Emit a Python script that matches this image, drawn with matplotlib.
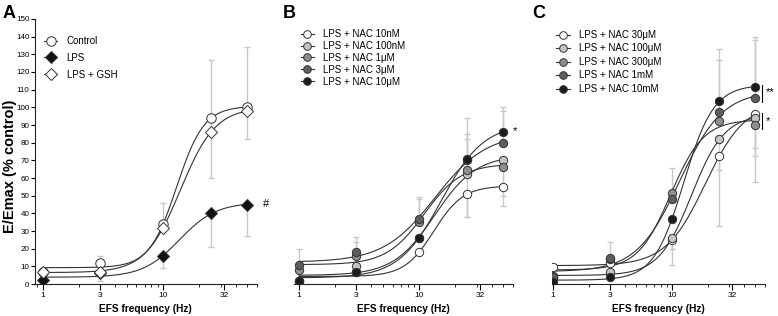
import numpy as np
import matplotlib
matplotlib.use("Agg")
import matplotlib.pyplot as plt
from matplotlib.ticker import FixedLocator, LogLocator, NullFormatter, FixedFormatter
from matplotlib.lines import Line2D

plt.rcParams['font.family'] = ['Liberation Sans', 'DejaVu Sans']

# EFS frequencies (Hz)
freq = [1, 3, 10, 25, 50]
xticks = [1, 3, 10, 32]
xticklabels = ["1", "3", "10", "32"]

# panel A
a_labels = ["Control", "LPS", "LPS + GSH"]
a_control = [7, 12, 34, 94, 100]
a_lps = [2.5, 6, 16, 40, 45]
a_gsh = [7, 7, 32, 86, 98]
a_up = [[0, 4, 12, 33, 34], [0, 0, 0, 0, 0], [0, 0, 0, 0, 0]]
a_dn = [[0, 0, 0, 34, 0], [0, 0, 7, 19, 18], [0, 5, 0, 0, 16]]

# panel B
b_labels = ["LPS + NAC 10nM", "LPS + NAC 100nM", "LPS + NAC 1\u03bcM",
            "LPS + NAC 3\u03bcM", "LPS + NAC 10\u03bcM"]
b_10nM = [2, 7, 18, 51, 55]
b_100nM = [2, 10, 26, 62, 70]
b_1uM = [8, 16, 35, 64.5, 66]
b_3uM = [11, 18, 37, 70, 80]
b_10uM = [2, 7, 26, 71, 86]
b_up = [[0, 0, 0, 0, 0], [0, 0, 0, 0, 0], [0, 7.6, 13, 17.5, 0],
        [9, 8.4, 12, 15, 18], [0, 0, 0, 23, 14]]
b_dn = [[0, 0, 0, 13, 11], [0, 0, 0, 24, 0], [0, 0, 0, 0, 16],
        [0, 0, 0, 0, 0], [0, 0, 0, 0, 0]]

# panel C
c_labels = ["LPS + NAC 30\u03bcM", "LPS + NAC 100\u03bcM", "LPS + NAC 300\u03bcM",
            "LPS + NAC 1mM", "LPS + NAC 10mM"]
c_30uM = [9.8, 12, 25, 72.6, 96]
c_100uM = [3.5, 7, 26, 82, 94]
c_300uM = [4.5, 14, 51.7, 92, 90]
c_1mM = [4, 15, 48, 97.5, 105]
c_10mM = [1.3, 4, 37, 103.5, 111.7]
c_up = [[0, 0, 0, 0, 0], [0, 0, 0, 0, 0], [0, 0, 14, 0, 0],
        [0, 9, 0, 29.3, 33], [0, 0, 0, 29.5, 28]]
c_dn = [[0, 0, 14, 40, 19], [0, 0, 6, 17.5, 21.4], [0, 0, 0, 0, 32],
        [0, 0, 0, 0, 0], [0, 0, 0, 0, 0]]

grays = ["#ffffff", "#c4c4c4", "#8e8e8e", "#5e5e5e", "#1c1c1c"]


def f4pl(p, lx):
    b, t, c, h = p
    return b + (t - b) / (1 + 10 ** ((c - lx) * h))


def fit4pl(x, y):
    lx = np.log10(x)
    y = np.asarray(y, float)
    p = np.array([y.min(), y.max(), 1.1, 1.5])
    lam = 1e-2
    sse = np.sum((y - f4pl(p, lx)) ** 2)
    for _ in range(400):
        r = y - f4pl(p, lx)
        J = np.zeros((len(lx), 4))
        for k in range(4):
            dp = np.zeros(4)
            dp[k] = 1e-6 * max(1, abs(p[k]))
            J[:, k] = (f4pl(p + dp, lx) - f4pl(p, lx)) / dp[k]
        A = J.T @ J
        g = J.T @ r
        try:
            step = np.linalg.solve(A + lam * np.diag(np.diag(A) + 1e-9), g)
        except np.linalg.LinAlgError:
            break
        pn = p + step
        pn[3] = np.clip(pn[3], 0.3, 6)
        ssn = np.sum((y - f4pl(pn, lx)) ** 2)
        if ssn < sse:
            p, sse = pn, ssn
            lam *= 0.3
        else:
            lam *= 10
    return p


def draw(ax, y, up, dn, marker, face, ms):
    xs = np.logspace(0, np.log10(50), 300)
    p = fit4pl(freq, y)
    up = np.asarray(up, float)
    dn = np.asarray(dn, float)
    for i, xv in enumerate(freq):
        if up[i] > 0 or dn[i] > 0:
            ax.errorbar([xv], [y[i]], yerr=[[dn[i]], [up[i]]], fmt='none',
                        ecolor="#c8c8c8", elinewidth=1.0, capsize=2.5,
                        capthick=1.0, zorder=1)
    ax.plot(xs, f4pl(p, np.log10(xs)), color="#333333", lw=0.8, zorder=2)
    ax.plot(freq, y, ls='none', marker=marker, ms=ms, mfc=face,
            mec="#333333", mew=0.7, zorder=3)


def style(ax, left, xmin):
    ax.set_xscale('log')
    ax.set_xlim(xmin, 60)
    ax.set_ylim(0, 150)
    ax.xaxis.set_major_locator(FixedLocator(xticks))
    ax.xaxis.set_major_formatter(FixedFormatter(xticklabels))
    ax.xaxis.set_minor_locator(LogLocator(base=10, subs=np.arange(2, 10)))
    ax.xaxis.set_minor_formatter(NullFormatter())
    for s in ['top', 'right']:
        ax.spines[s].set_visible(False)
    ax.spines['bottom'].set_color('#222222')
    ax.tick_params(axis='x', which='major', length=4, width=0.8, labelsize=6, pad=1.5)
    ax.tick_params(axis='x', which='minor', length=2, width=0.6)
    if left:
        ax.set_yticks(np.arange(0, 151, 10))
        ax.tick_params(axis='y', length=3, width=0.8, labelsize=5.8, pad=1)
        ax.spines['left'].set_color('#222222')
        ax.set_ylabel("E/Emax (% control)", fontsize=10.5, fontweight='bold')
        ax.yaxis.set_label_coords(-0.08, 0.445)
    else:
        ax.spines['left'].set_visible(False)
        ax.set_yticks([])
    ax.set_xlabel("EFS frequency (Hz)", fontsize=7.3, fontweight='bold', labelpad=3.5)


def legend(ax, handles, labels, anchor, spacing):
    ax.legend(handles, labels, loc='upper left', bbox_to_anchor=anchor,
              frameon=False, fontsize=7, handlelength=1.4, handletextpad=0.95,
              labelspacing=spacing, borderaxespad=0, borderpad=0)


fig = plt.figure(figsize=(7.78, 3.16), dpi=100)
axA = fig.add_axes([0.045, 0.101, 0.285, 0.839])
axB = fig.add_axes([0.378, 0.101, 0.281, 0.839])
axC = fig.add_axes([0.7095, 0.101, 0.2735, 0.839])

# A
draw(axA, a_control, a_up[0], a_dn[0], 'o', 'white', 6.8)
draw(axA, a_lps, a_up[1], a_dn[1], 'D', '#111111', 5.8)
draw(axA, a_gsh, a_up[2], a_dn[2], 'D', 'white', 5.8)
style(axA, True, 0.86)
hA = [Line2D([], [], color='#333333', lw=0.8, marker='o', ms=6.8, mfc='white', mec='#333333', mew=0.7),
      Line2D([], [], color='#333333', lw=0.8, marker='D', ms=5.8, mfc='#111111', mec='#333333', mew=0.7),
      Line2D([], [], color='#333333', lw=0.8, marker='D', ms=5.8, mfc='white', mec='#333333', mew=0.7)]
legend(axA, hA, a_labels, (0.04, (284 - 36) / 265), 0.7)
fig.text(263 / 778, 1 - 204 / 316, "#", fontsize=8, va='center')

# B
for y, up, dn, c in zip([b_10nM, b_100nM, b_1uM, b_3uM, b_10uM], b_up, b_dn, grays):
    draw(axB, y, up, dn, 'o', c, 6)
style(axB, False, 0.91)
hB = [Line2D([], [], color='#333333', lw=0.8, marker='o', ms=5.5, mfc=c, mec='#333333', mew=0.7)
      for c in grays]
legend(axB, hB, b_labels, (0.03, (284 - 29) / 265), 0.2)
fig.text(513 / 778, 1 - 131 / 316, "*", fontsize=8, va='center')

# C
for y, up, dn, c in zip([c_30uM, c_100uM, c_300uM, c_1mM, c_10mM], c_up, c_dn, grays):
    draw(axC, y, up, dn, 'o', c, 6)
style(axC, False, 0.98)
hC = [Line2D([], [], color='#333333', lw=0.8, marker='o', ms=5.5, mfc=c, mec='#333333', mew=0.7)
      for c in grays]
legend(axC, hC, c_labels, (0.02, (284 - 30) / 265), 0.36)
fig.add_artist(Line2D([762 / 778, 762 / 778], [1 - 85 / 316, 1 - 102 / 316], color='black', lw=0.8))
fig.add_artist(Line2D([762 / 778, 762 / 778], [1 - 113 / 316, 1 - 129 / 316], color='black', lw=0.8))
fig.text(766 / 778, 1 - 92 / 316, "**", fontsize=8, va='center')
fig.text(766 / 778, 1 - 121 / 316, "*", fontsize=8, va='center')

# panel letters
fig.text(3 / 778, 1 - 14 / 316, "A", fontsize=13, fontweight='bold', va='center')
fig.text(283 / 778, 1 - 14 / 316, "B", fontsize=13, fontweight='bold', va='center')
fig.text(532 / 778, 1 - 14 / 316, "C", fontsize=13, fontweight='bold', va='center')

fig.savefig("out.png", dpi=100)
